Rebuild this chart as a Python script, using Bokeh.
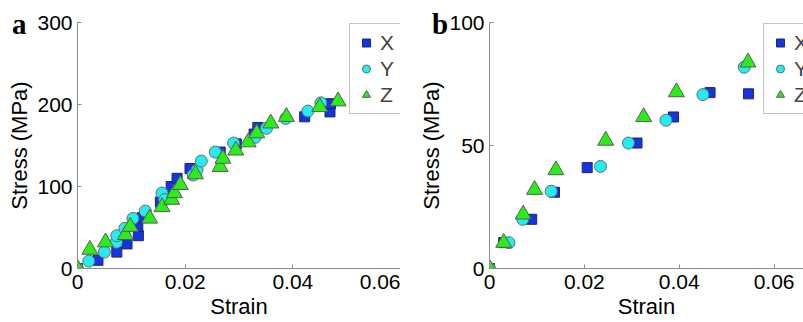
from bokeh.plotting import figure
from bokeh.layouts import row
from bokeh.models import FixedTicker, Legend, LegendItem, Range1d, Div
from bokeh.embed import file_html
from bokeh.resources import INLINE

# ---- data: panel a ----
a_x_strain = [0.0, 0.0038, 0.0073, 0.0092, 0.0113, 0.0112, 0.0120, 0.0154, 0.0165, 0.0174,
              0.0185, 0.0209, 0.0265, 0.0295, 0.0328, 0.0335, 0.0422, 0.0469, 0.0470]
a_x_stress = [0, 10, 20, 30, 40, 51, 62, 81, 90, 100, 110, 122, 142, 152, 164, 172, 185, 191, 201]
a_y_strain = [0.0, 0.0021, 0.0050, 0.0072, 0.0073, 0.0088, 0.0103, 0.0126, 0.0157, 0.0162,
              0.0215, 0.0222, 0.0230, 0.0256, 0.0290, 0.0330, 0.0351, 0.0387, 0.0428, 0.0452]
a_y_stress = [0, 9, 20, 32, 40, 49, 61, 70, 92, 84, 114, 120, 131, 142, 153, 160, 171, 183, 192, 202]
a_z_strain = [0.0, 0.0023, 0.0052, 0.0089, 0.0098, 0.0134, 0.0157, 0.0175, 0.0180, 0.0191,
              0.0219, 0.0265, 0.0270, 0.0294, 0.0317, 0.0333, 0.0359, 0.0388, 0.0450, 0.0484]
a_z_stress = [0, 23, 32, 41, 51, 61, 75, 84, 92, 102, 115, 124, 134, 144, 154, 165, 177, 185, 197, 204]

# ---- data: panel b ----
b_x_strain = [0.0, 0.0030, 0.0089, 0.0137, 0.0206, 0.0311, 0.0388, 0.0465, 0.0546]
b_x_stress = [0, 10.5, 20, 31, 41, 51, 61.6, 71.5, 71]
b_y_strain = [0.0, 0.0041, 0.0070, 0.0130, 0.0234, 0.0293, 0.0372, 0.0450, 0.0537]
b_y_stress = [0, 10.5, 20, 31.4, 41.5, 51, 60.3, 70.7, 81.8]
b_z_strain = [0.0, 0.0030, 0.0071, 0.0095, 0.0140, 0.0245, 0.0325, 0.0394, 0.0545]
b_z_stress = [0, 10.5, 22, 32, 40, 52, 61.6, 71.7, 83.8]

series_names = ["X", "Y", "Z"]
panel_letters = ["a", "b"]
x_ticks = [0, 0.02, 0.04, 0.06]
x_tick_labels = ["0", "0.02", "0.04", "0.06"]
a_y_ticks = [0, 100, 200, 300]
b_y_ticks = [0, 50, 100]

FONT = "Liberation Sans"
AX_COL = "#8c8c8c"


def style_axes(p, yticks):
    p.xaxis.ticker = FixedTicker(ticks=x_ticks)
    p.xaxis.major_label_overrides = {t: s for t, s in zip(x_ticks, x_tick_labels)}
    p.yaxis.ticker = FixedTicker(ticks=yticks)
    p.yaxis.major_label_overrides = {t: str(t) for t in yticks}
    for ax in (p.xaxis, p.yaxis):
        ax.axis_line_color = AX_COL
        ax.major_tick_line_color = AX_COL
        ax.major_tick_in = 4
        ax.major_tick_out = 0
        ax.minor_tick_line_color = None
        ax.major_label_text_font = FONT
        ax.major_label_text_font_size = "21px"
        ax.major_label_text_color = "black"
        ax.axis_label_text_font = FONT
        ax.axis_label_text_font_size = "22px"
        ax.axis_label_text_font_style = "normal"
        ax.axis_label_text_color = "black"
    p.xaxis.axis_label = "Strain"
    p.yaxis.axis_label = "Stress (MPa)"
    p.xaxis.major_label_standoff = 6
    p.xaxis.axis_label_standoff = 2
    p.yaxis.major_label_standoff = 5
    p.yaxis.axis_label_standoff = 2
    p.xgrid.visible = False
    p.ygrid.visible = False
    p.outline_line_color = None
    p.background_fill_color = "white"
    p.border_fill_color = "white"


def add_series(p, xs, ys):
    r1 = p.scatter(xs[0], ys[0], marker="square", size=10, fill_color="#1336e0",
                   line_color="#22226a", line_width=1)
    r2 = p.scatter(xs[1], ys[1], marker="circle", size=12, fill_color="#22eef0",
                   line_color="#6a6a6a", line_width=1)
    r3 = p.scatter(xs[2], ys[2], marker="triangle", size=16, fill_color="#2aee18",
                   line_color="#5a5a5a", line_width=1)
    return [r1, r2, r3]


def make_legend(rends, location):
    items = [LegendItem(label=n, renderers=[r]) for n, r in zip(series_names, rends)]
    lg = Legend(items=items, location=location,
                label_text_font=FONT, label_text_font_size="21px",
                glyph_width=20, glyph_height=25, label_standoff=4,
                label_width=14, label_height=25,
                padding=6, spacing=1, margin=0,
                border_line_color=AX_COL, border_line_width=1,
                background_fill_color="white", background_fill_alpha=1.0)
    return lg


def letter_div(text, left, top):
    return Div(text=text, width=22, height=34,
               styles={"position": "absolute", "left": f"{left}px", "top": f"{top}px",
                       "font-family": "Liberation Serif", "font-weight": "bold",
                       "font-size": "29px", "line-height": "29px", "color": "black",
                       "z-index": "10"})


# ---- panel a ----
pa = figure(width=400, height=322, output_backend="svg", toolbar_location=None,
            x_range=Range1d(0, 0.06), y_range=Range1d(0, 300),
            min_border_left=77, min_border_right=0, min_border_top=22, min_border_bottom=54)
style_axes(pa, a_y_ticks)
ra = add_series(pa, [a_x_strain, a_y_strain, a_z_strain], [a_x_stress, a_y_stress, a_z_stress])
pa.add_layout(make_legend(ra, (272, 154)), "center")

# ---- panel b ----
pb = figure(width=403, height=322, output_backend="svg", toolbar_location=None,
            x_range=Range1d(0, 0.0662), y_range=Range1d(0, 100),
            min_border_left=89, min_border_right=0, min_border_top=22, min_border_bottom=54)
style_axes(pb, b_y_ticks)
rb = add_series(pb, [b_x_strain, b_y_strain, b_z_strain], [b_x_stress, b_y_stress, b_z_stress])
pb.add_layout(make_legend(rb, (274, 154)), "center")

layout = row(pa, pb, letter_div(panel_letters[0], 7, 5), letter_div(panel_letters[1], 427, 5),
             spacing=0)
open("out.html", "w").write(file_html(layout, INLINE))
